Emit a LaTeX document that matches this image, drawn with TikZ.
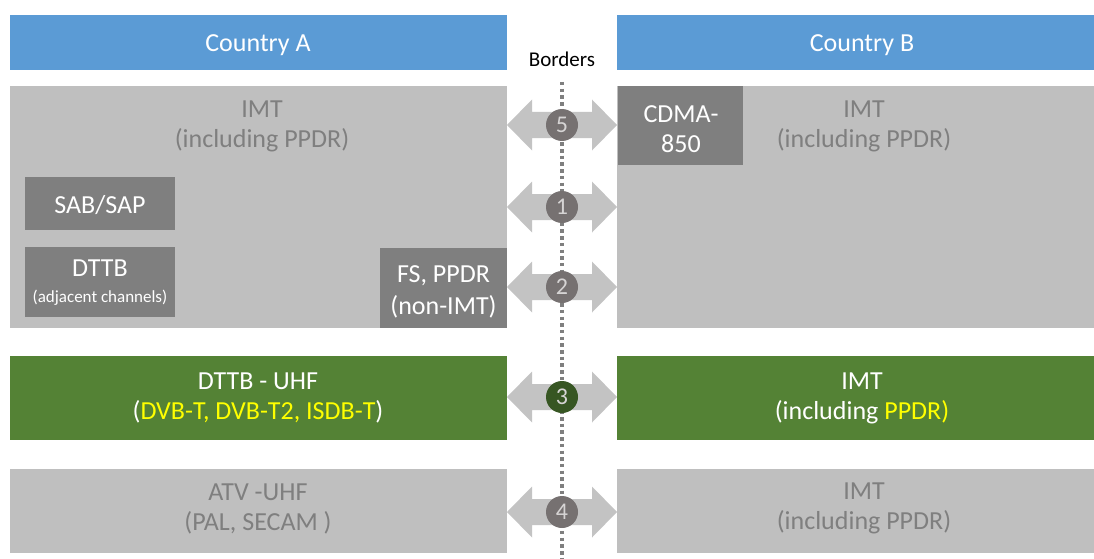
\documentclass[tikz,border=0pt]{standalone}
\usepackage{fontspec}
\setmainfont{Carlito}
\usetikzlibrary{calc}

\definecolor{hdrblue}{HTML}{5B9BD5}
\definecolor{panelgray}{HTML}{BFBFBF}
\definecolor{boxgray}{HTML}{7F7F7F}
\definecolor{txtgray}{HTML}{7F7F7F}
\definecolor{bandgreen}{HTML}{548235}
\definecolor{dkgreen}{HTML}{375623}
\definecolor{circgray}{HTML}{767171}
\definecolor{numgray}{HTML}{D6D4D4}
\definecolor{arrowgray}{HTML}{C3C3C3}
\definecolor{hiyellow}{HTML}{FFFF00}

% double-headed arrow across the border: left node, right node, height y
\newcommand\crossarrow[3]{%
  \fill[arrowgray] (#1.east |- 0,#3) -- ++(25,-25.5) -- ++(0,12.5)
    -- ($(#2.west |- 0,#3)+(-25,-13)$) -- ++(0,-12.5) -- (#2.west |- 0,#3)
    -- ++(-25,25.5) -- ++(0,-12.5) -- ($(#1.east |- 0,#3)+(25,13)$)
    -- ++(0,12.5) -- cycle;}

\begin{document}
\begin{tikzpicture}[x=1pt,y=-1pt,
  bigfont/.style={font=\fontsize{26}{30}\selectfont},
  block/.style={rectangle, inner sep=0pt, outer sep=0pt},
  header/.style={block, fill=hdrblue},
  panel/.style={block, fill=panelgray},
  darkbox/.style={block, fill=boxgray},
  greenband/.style={block, fill=bandgreen},
  lbl/.style={align=center, inner sep=0pt, bigfont},
  marker/.style={circle, fill=circgray, minimum size=32pt, inner sep=0pt,
    text=numgray, font=\fontsize{24}{24}\selectfont},
  borderline/.style={draw=boxgray, line width=3.5pt, dash pattern=on 3.5pt off 3.2pt}
]
\useasboundingbox (0,0) rectangle (1094,559);

% column headers
\node[header, minimum width=497pt, minimum height=55pt] (hA) at (258.5,42.5) {};
\node[header, minimum width=477pt, minimum height=55pt] (hB) at (855.5,42.5) {};
\node[lbl, text=white] (hAt) at (258,45.5) {Country A};
\node[lbl, text=white] (hBt) at (862,45.5) {Country B};
\node[lbl, font=\fontsize{21}{21}\selectfont] (brd) at (562,59) {Borders};

% upper band: IMT on both sides
\node[panel, minimum width=497pt, minimum height=242pt] (pA) at (258.5,207) {};
\node[panel, minimum width=477pt, minimum height=242pt] (pB) at (855.5,207) {};
\node[lbl, text=txtgray] (pAt) at (262,126.5) {IMT\\(including PPDR)};
\node[lbl, text=txtgray] (pBt) at (864,126.5) {IMT\\(including PPDR)};

\node[darkbox, minimum width=125pt, minimum height=79pt] (cdma) at (680.5,125.5) {};
\node[lbl, text=white] (cdmat) at (681,129.5) {CDMA-\\850};
\node[darkbox, minimum width=150pt, minimum height=53pt] (sab) at (100,203.5) {};
\node[lbl, text=white] (sabt) at (100,205.5) {SAB/SAP};
\node[darkbox, minimum width=150pt, minimum height=70pt] (dttb) at (100,282) {};
\node[lbl, text=white] (dttbt) at (100,283)
  {DTTB\\[-4pt]{\fontsize{17}{20}\selectfont(adjacent channels)}};
\node[darkbox, minimum width=127pt, minimum height=80pt] (fs) at (443.5,288) {};
\node[lbl, text=white, font=\fontsize{26}{31.5}\selectfont] (fst) at (443.5,292)
  {FS, PPDR\\(non-IMT)};

% middle band: DTTB vs IMT
\node[greenband, minimum width=497pt, minimum height=84pt] (gA) at (258.5,398) {};
\node[greenband, minimum width=477pt, minimum height=84pt] (gB) at (855.5,398) {};
\node[lbl, text=white] (gAt) at (258,398)
  {DTTB - UHF\\(\textcolor{hiyellow}{DVB-T, DVB-T2, ISDB-T})};
\node[lbl, text=white] (gBt) at (862,398)
  {IMT\\(including \textcolor{hiyellow}{PPDR)}};

% lower band: ATV vs IMT
\node[panel, minimum width=497pt, minimum height=84pt] (aA) at (258.5,511) {};
\node[panel, minimum width=477pt, minimum height=84pt] (aB) at (855.5,511) {};
\node[lbl, text=txtgray] (aAt) at (258,508.5) {ATV -UHF\\(PAL, SECAM )};
\node[lbl, text=txtgray] (aBt) at (864,508.5) {IMT\\(including PPDR)};

% cross-border arrows
\crossarrow{pA}{pB}{125}
\crossarrow{pA}{pB}{207}
\crossarrow{pA}{pB}{287}
\crossarrow{gA}{gB}{397}
\crossarrow{aA}{aB}{512}

% the border itself
\coordinate (btop) at (562,82);
\coordinate (bbot) at (562,559);
\draw[borderline] (btop) -- (bbot);

% numbered markers
\node[marker] (m5) at (btop |- 0,125) {5};
\node[marker] (m1) at (btop |- 0,207) {1};
\node[marker] (m2) at (btop |- 0,287) {2};
\node[marker, fill=dkgreen] (m3) at (btop |- 0,397) {3};
\node[marker] (m4) at (btop |- 0,512) {4};
\end{tikzpicture}
\end{document}
